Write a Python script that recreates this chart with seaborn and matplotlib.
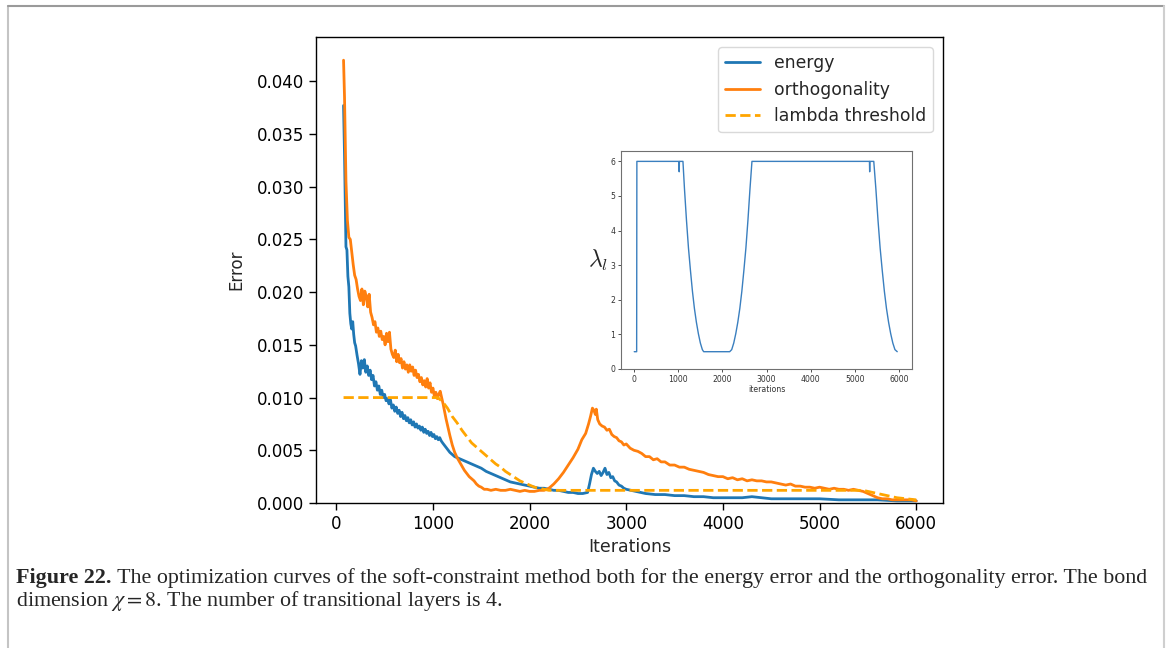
import matplotlib
matplotlib.use("Agg")
import matplotlib.pyplot as plt
import seaborn as sns
import pandas as pd
from matplotlib.lines import Line2D

# ---------------- data ----------------
ortho_iter = [75, 85, 100, 115, 130, 145, 160, 175, 190, 205, 220, 235, 250, 265, 280, 295, 310, 325, 340, 355,
              370, 385, 400, 415, 430, 445, 460, 475, 490, 505, 520, 535, 550, 565, 580, 595, 610, 625, 640, 655,
              670, 685, 700, 715, 730, 745, 760, 775, 790, 805, 820, 835, 850, 865, 880, 895, 910, 925, 940, 955,
              970, 985, 1000, 1015, 1030, 1045, 1060, 1075, 1090, 1105, 1120, 1135, 1150, 1175, 1200, 1225, 1250,
              1275, 1300, 1325, 1350, 1375, 1400, 1425, 1450, 1475, 1500, 1530, 1560, 1600, 1650, 1700, 1750, 1800,
              1850, 1900, 1950, 2000, 2050, 2100, 2150, 2200, 2250, 2300, 2350, 2400, 2450, 2500, 2540, 2580, 2610,
              2630, 2650, 2665, 2680, 2690, 2705, 2725, 2750, 2775, 2800, 2825, 2850, 2875, 2900, 2925, 2950, 2975,
              3000, 3040, 3080, 3120, 3160, 3200, 3240, 3280, 3320, 3360, 3400, 3450, 3500, 3550, 3600, 3650, 3700,
              3750, 3800, 3850, 3900, 3950, 4000, 4050, 4100, 4150, 4200, 4250, 4300, 4350, 4400, 4450, 4500, 4550,
              4600, 4650, 4700, 4750, 4800, 4850, 4900, 4950, 5000, 5050, 5100, 5150, 5200, 5250, 5300, 5350, 5400,
              5450, 5500, 5550, 5600, 5650, 5700, 5750, 5800, 5850, 5900, 5950, 6000]
ortho_err = [0.0420, 0.0385, 0.0305, 0.0268, 0.0252, 0.0250, 0.0238, 0.0226, 0.0216, 0.0212, 0.0203, 0.0196,
             0.0192, 0.0203, 0.0188, 0.0201, 0.0196, 0.0186, 0.0198, 0.0181, 0.0176, 0.0169, 0.0172, 0.0162,
             0.0166, 0.0158, 0.0163, 0.0155, 0.0158, 0.0150, 0.0161, 0.0153, 0.0162, 0.0146, 0.0141, 0.0138,
             0.0145, 0.0134, 0.0141, 0.0133, 0.0137, 0.0128, 0.0134, 0.0127, 0.0131, 0.0124, 0.0131, 0.0125,
             0.0129, 0.0121, 0.0126, 0.0119, 0.0122, 0.0115, 0.0119, 0.0112, 0.0116, 0.0110, 0.0118, 0.0109,
             0.0114, 0.0105, 0.0109, 0.0101, 0.0105, 0.0099, 0.0103, 0.0106, 0.0100, 0.0094, 0.0087, 0.0080,
             0.0074, 0.0064, 0.0055, 0.0048, 0.0043, 0.0039, 0.0035, 0.0031, 0.0028, 0.0025, 0.0023, 0.0021,
             0.0018, 0.0016, 0.0015, 0.0013, 0.0013, 0.0012, 0.0013, 0.0012, 0.0012, 0.0013, 0.0012, 0.0011,
             0.0012, 0.0011, 0.0011, 0.0012, 0.0012, 0.0014, 0.0018, 0.0023, 0.0029, 0.0036, 0.0043, 0.0051,
             0.0060, 0.0066, 0.0075, 0.0082, 0.0090, 0.0088, 0.0084, 0.0089, 0.0079, 0.0075, 0.0073, 0.0072,
             0.0069, 0.0070, 0.0065, 0.0063, 0.0062, 0.0059, 0.0058, 0.0055, 0.0056, 0.0052, 0.0050, 0.0049,
             0.0047, 0.0044, 0.0044, 0.0041, 0.0042, 0.0039, 0.0039, 0.0036, 0.0036, 0.0034, 0.0034, 0.0032,
             0.0031, 0.0030, 0.0029, 0.0027, 0.0026, 0.0025, 0.0025, 0.0023, 0.0024, 0.0022, 0.0023, 0.0021,
             0.0022, 0.0021, 0.0021, 0.0020, 0.0020, 0.0019, 0.0018, 0.0017, 0.0018, 0.0016, 0.0016, 0.0015,
             0.0015, 0.0014, 0.0015, 0.0014, 0.0013, 0.0014, 0.0013, 0.0013, 0.0012, 0.0013, 0.0012,
             0.0011, 0.0009, 0.0007, 0.0005, 0.0004, 0.0004, 0.0003, 0.0003, 0.0003, 0.0003, 0.0003, 0.0002]

energy_iter = [75, 85, 95, 100, 110, 120, 130, 140, 150, 160, 170, 180, 190, 200, 215, 230, 245, 260, 275, 290,
               305, 320, 335, 350, 365, 380, 395, 410, 425, 440, 455, 470, 485, 500, 515, 530, 545, 560, 575, 590,
               605, 620, 635, 650, 665, 680, 695, 710, 725, 740, 755, 770, 785, 800, 815, 830, 845, 860, 875, 890,
               905, 920, 935, 950, 965, 980, 995, 1010, 1025, 1040, 1055, 1070, 1085, 1100, 1125, 1150, 1175, 1200,
               1225, 1250, 1300, 1350, 1400, 1450, 1500, 1550, 1600, 1650, 1700, 1750, 1800, 1850, 1900, 1950, 2000,
               2050, 2100, 2150, 2200, 2250, 2300, 2350, 2400, 2450, 2500, 2550, 2600, 2620, 2640, 2660, 2680, 2700,
               2720, 2740, 2760, 2780, 2800, 2820, 2840, 2860, 2880, 2900, 2925, 2950, 2975, 3000, 3050, 3100, 3150,
               3200, 3300, 3400, 3500, 3600, 3700, 3800, 3900, 4000, 4100, 4200, 4300, 4400, 4500, 4600, 4700, 4800,
               4900, 5000, 5200, 5400, 5600, 5800, 6000]
energy_err = [0.0377, 0.0330, 0.0270, 0.0243, 0.0240, 0.0215, 0.0205, 0.0180, 0.0170, 0.0165, 0.0172, 0.0160,
              0.0152, 0.0149, 0.0140, 0.0132, 0.0122, 0.0135, 0.0128, 0.0136, 0.0124, 0.0130, 0.0121, 0.0126,
              0.0117, 0.0121, 0.0111, 0.0115, 0.0107, 0.0111, 0.0103, 0.0107, 0.0100, 0.0103, 0.0097, 0.0099,
              0.0094, 0.0098, 0.0090, 0.0093, 0.0087, 0.0091, 0.0085, 0.0088, 0.0082, 0.0086, 0.0080, 0.0083,
              0.0078, 0.0081, 0.0076, 0.0079, 0.0074, 0.0077, 0.0072, 0.0075, 0.0071, 0.0073, 0.0069, 0.0072,
              0.0067, 0.0070, 0.0066, 0.0068, 0.0064, 0.0067, 0.0063, 0.0065, 0.0061, 0.0063, 0.0060, 0.0062,
              0.0059, 0.0057, 0.0054, 0.0051, 0.0048, 0.0046, 0.0044, 0.0043, 0.0041, 0.0039, 0.0037, 0.0035,
              0.0033, 0.0030, 0.0028, 0.0026, 0.0024, 0.0022, 0.0020, 0.0019, 0.0018, 0.0017, 0.0016, 0.0015,
              0.0014, 0.0014, 0.0013, 0.0012, 0.0012, 0.0011, 0.0010, 0.0010, 0.0009, 0.0009, 0.0010, 0.0018,
              0.0027, 0.0033, 0.0030, 0.0028, 0.0030, 0.0026, 0.0029, 0.0033, 0.0027, 0.0029, 0.0024, 0.0025,
              0.0021, 0.0020, 0.0017, 0.0016, 0.0014, 0.0013, 0.0012, 0.0011, 0.0010, 0.0009, 0.0008, 0.0008,
              0.0007, 0.0007, 0.0006, 0.0006, 0.0005, 0.0005, 0.0005, 0.0005, 0.0006, 0.0005, 0.0004, 0.0004,
              0.0004, 0.0004, 0.0004, 0.0004, 0.0003, 0.0003, 0.0003, 0.0002, 0.0002]

thresh_iter = [75, 1050, 1100, 1150, 1200, 1250, 1300, 1350, 1400, 1450, 1500, 1550, 1600, 1650, 1700, 1750,
               1800, 1850, 1900, 1950, 2000, 2050, 2100, 2150, 2200, 5450, 5500, 5600, 5700, 5800, 5900, 6000]
thresh_val = [0.0100, 0.0100, 0.0096, 0.0090, 0.0082, 0.0076, 0.0069, 0.0063, 0.0057, 0.0053, 0.0049, 0.0045,
              0.0041, 0.0037, 0.0034, 0.0030, 0.0027, 0.0024, 0.0021, 0.0019, 0.0017, 0.0015, 0.0014, 0.0013,
              0.0012, 0.0012, 0.0011, 0.0009, 0.0007, 0.0005, 0.0004, 0.0003]

lam_iter = [0, 55, 60, 1015, 1020, 1025, 1105, 1140, 1185, 1230, 1275, 1320, 1365, 1410, 1455, 1500, 1545, 1575,
            2165, 2211, 2257, 2303, 2349, 2395, 2441, 2487, 2533, 2579, 2625, 2670, 5335, 5340, 5345, 5433, 5481,
            5529, 5577, 5625, 5673, 5721, 5769, 5817, 5865, 5913, 5965]
lam_val = [0.5, 0.5, 6.0, 6.0, 5.7, 6.0, 6.0, 5.2, 4.3, 3.5, 2.85, 2.25, 1.75, 1.35, 1.02, 0.75, 0.56, 0.5,
           0.5, 0.56, 0.75, 1.02, 1.35, 1.75, 2.25, 2.85, 3.5, 4.3, 5.2, 6.0, 6.0, 5.7, 6.0, 6.0, 5.2,
           4.3, 3.5, 2.85, 2.25, 1.75, 1.35, 1.02, 0.75, 0.56, 0.5]

main_yticks = [0.000, 0.005, 0.010, 0.015, 0.020, 0.025, 0.030, 0.035, 0.040]
main_xticks = [0, 1000, 2000, 3000, 4000, 5000, 6000]
inset_yticks = [0, 1, 2, 3, 4, 5, 6]

caption_bold = "Figure 22."
caption_rest1 = (" The optimization curves of the soft-constraint method both for the energy error and "
                 "the orthogonality error. The bond")
caption_line2 = r"dimension $\chi = 8$. The number of transitional layers is 4."

# ---------------- style ----------------
sns.set_theme(style="ticks")
plt.rcParams["font.family"] = ["DejaVu Sans"]
plt.rcParams["axes.edgecolor"] = "black"
plt.rcParams["xtick.color"] = "black"
plt.rcParams["ytick.color"] = "black"
plt.rcParams["axes.linewidth"] = 1.0

W, H = 1168, 648
fig = plt.figure(figsize=(W / 100, H / 100), dpi=100)
fig.patch.set_facecolor("white")

# outer frame of the page crop
fig.add_artist(Line2D([8 / W, 8 / W], [0, 1 - 6 / H], color="#c4c4c4", lw=1.5))
fig.add_artist(Line2D([8 / W, 1164 / W], [1 - 6 / H, 1 - 6 / H], color="#9a9a9a", lw=1.5))
fig.add_artist(Line2D([1164 / W, 1164 / W], [0, 1 - 6 / H], color="#cfcfcf", lw=1.5))

# ---------------- main axes ----------------
ax = fig.add_axes([316 / W, 1 - 503 / H, (943 - 316) / W, (503 - 37) / H])
df_o = pd.DataFrame({"it": ortho_iter, "err": ortho_err})
df_e = pd.DataFrame({"it": energy_iter, "err": energy_err})
df_t = pd.DataFrame({"it": thresh_iter, "err": thresh_val})
sns.lineplot(data=df_e, x="it", y="err", ax=ax, color="#1f77b4", lw=2, label="energy",
             estimator=None, sort=False)
sns.lineplot(data=df_o, x="it", y="err", ax=ax, color="#ff7f0e", lw=2, label="orthogonality",
             estimator=None, sort=False)
sns.lineplot(data=df_t, x="it", y="err", ax=ax, color="#ffa500", lw=2, linestyle="--",
             label="lambda threshold", estimator=None, sort=False)
ax.set_xlim(-210, 6277)
ax.set_ylim(0, 0.0442)
ax.set_xticks(main_xticks)
ax.set_yticks(main_yticks)
ax.set_yticklabels([f"{v:.3f}" for v in main_yticks])
ax.tick_params(labelsize=12, length=5, width=1, direction="out")
ax.set_xlabel("Iterations", fontsize=12.5, labelpad=4)
ax.set_ylabel("Error", fontsize=12, labelpad=8)
for s in ax.spines.values():
    s.set_visible(True)
    s.set_color("black")
leg = ax.legend(loc="upper right", fontsize=12.4, frameon=True, borderaxespad=0.6)
leg.get_frame().set_edgecolor("#d0d0d0")

# ---------------- inset ----------------
axi = fig.add_axes([621 / W, 1 - 369 / H, (912 - 621) / W, (369 - 151) / H])
df_l = pd.DataFrame({"it": lam_iter, "lam": lam_val})
sns.lineplot(data=df_l, x="it", y="lam", ax=axi, color="#3a7fbf", lw=1.0, estimator=None, sort=False)
axi.set_xlim(-300, 6300)
axi.set_ylim(0, 6.3)
axi.set_xticks(main_xticks)
axi.set_yticks(inset_yticks)
axi.tick_params(labelsize=5.6, length=2.5, width=0.6, pad=1.5, colors="#333333")
for s in axi.spines.values():
    s.set_visible(True)
    s.set_color("#707070")
    s.set_linewidth(0.8)
axi.set_xlabel("iterations", fontsize=5.6, labelpad=1, color="#333333")
axi.set_ylabel(r"$\lambda_l$", fontsize=17, rotation=0, labelpad=9, va="center",
               math_fontfamily="cm")

# ---------------- caption ----------------
fig.canvas.draw()
renderer = fig.canvas.get_renderer()
cap_family = "Liberation Serif"
size0 = 12
t1 = fig.text(16 / W, 1 - 578 / H, caption_bold, fontsize=size0, fontweight="bold",
              family=cap_family, va="center", ha="left")
t2 = fig.text(0, 1 - 578 / H, caption_rest1, fontsize=size0, family=cap_family, va="center", ha="left")
t3 = fig.text(16 / W, 1 - 601 / H, caption_line2, fontsize=size0, family=cap_family, va="center",
              ha="left", math_fontfamily="stix")
w1 = t1.get_window_extent(renderer).width + t2.get_window_extent(renderer).width
size = size0 * (1130 / w1)
for t in (t1, t2, t3):
    t.set_fontsize(size)
bb1 = t1.get_window_extent(renderer)
t2.set_x(bb1.x1 / W)

fig.savefig("out.png", dpi=100, facecolor="white")
